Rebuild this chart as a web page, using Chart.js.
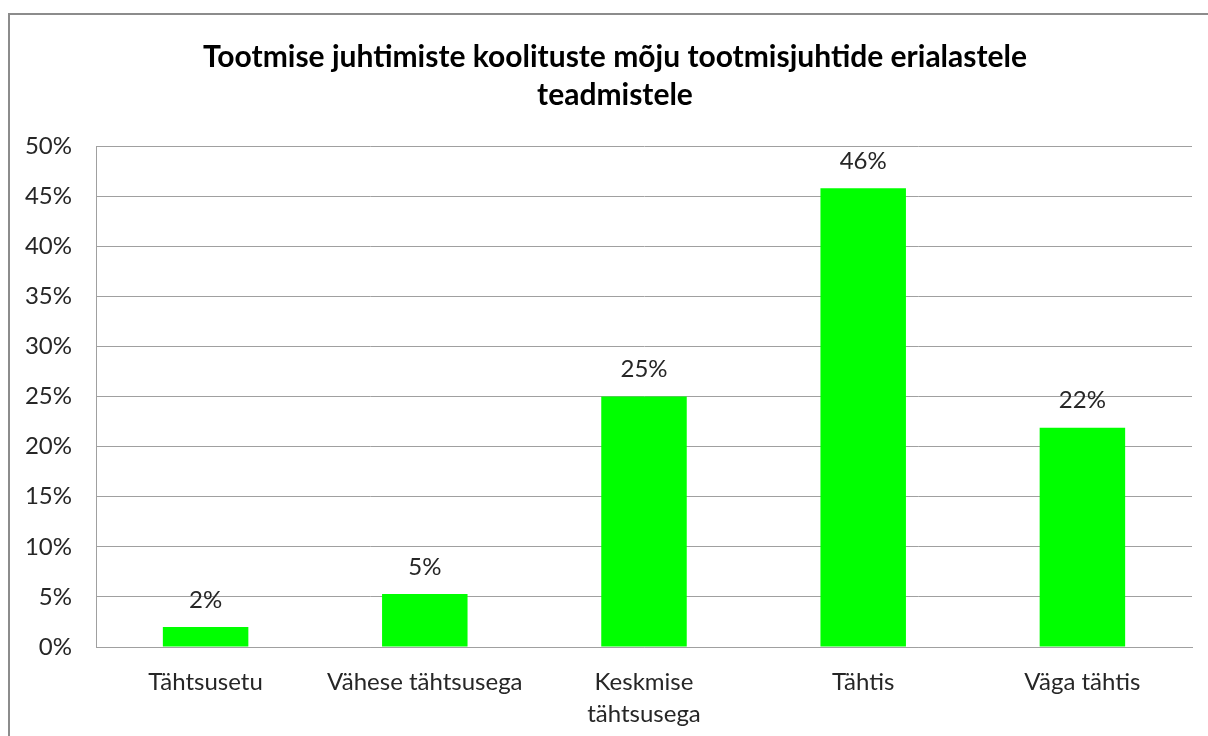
<!DOCTYPE html>
<html lang="et">

<head>
    <meta charset="UTF-8">
    <title>Tootmise juhtimiste koolitused</title>
    <script src="https://cdn.jsdelivr.net/npm/chart.js"></script>
    <style>
        html, body {
            margin: 0;
            padding: 0;
            background: #ffffff;
            overflow: hidden;
        }

        .graafik {
            position: relative;
            width: 1208px;
            height: 736px;
        }
    </style>
</head>

<body>

    <div class="graafik">
        <canvas id="mojuGraafik"></canvas>
    </div>

<script>

    // vastuste jaotus (%)
    var hinnangud = ['Tähtsusetu', 'Vähese tähtsusega', ['Keskmise', 'tähtsusega'], 'Tähtis', 'Väga tähtis'];
    var osakaal = [2.0, 5.3, 25.0, 45.8, 21.9];
    var yMax = 50;
    var ySamm = 5;

    var kiri = 'Lato, "DejaVu Sans", sans-serif';
    var tekstiVarv = '#262626';
    var joonVarv = '#a0a0a0';

    // diagrammi ümbritsev raam + pealkirja nihutamine raami keskele
    var raam = {
        id: 'raam',
        afterLayout: function (chart) {
            chart.titleBlock.left = 38;
        },
        beforeDraw: function (chart) {
            var ctx = chart.ctx;
            ctx.save();
            ctx.strokeStyle = '#8c8c8c';
            ctx.lineWidth = 2;
            ctx.strokeRect(9, 14, 1400, 900);
            ctx.restore();
        }
    };

    // protsendid tulpade kohale
    var sildid = {
        id: 'sildid',
        afterDatasetsDraw: function (chart) {
            var ctx = chart.ctx;
            var meta = chart.getDatasetMeta(0);
            ctx.save();
            ctx.font = '24px ' + kiri;
            ctx.fillStyle = tekstiVarv;
            ctx.textAlign = 'center';
            ctx.textBaseline = 'middle';
            for (var i = 0; i < meta.data.length; i++) {
                var tulp = meta.data[i];
                ctx.fillText(Math.round(osakaal[i]) + '%', tulp.x, tulp.y - 27);
            }
            ctx.restore();
        }
    };

    var ctx = document.getElementById('mojuGraafik').getContext('2d');
    var myChart = new Chart(ctx, {
        type: 'bar',
        data: {
            labels: hinnangud,
            datasets: [{
                data: osakaal,
                backgroundColor: '#00ff00',
                borderWidth: 0,
                barPercentage: 0.39,
                categoryPercentage: 1
            }]
        },
        options: {
            responsive: true,
            maintainAspectRatio: false,
            animation: false,
            layout: {
                padding: { left: 0, right: 16, top: 20, bottom: 0 }
            },
            plugins: {
                legend: { display: false },
                tooltip: { enabled: false },
                title: {
                    display: true,
                    text: ['Tootmise juhtimiste koolituste mõju tootmisjuhtide erialastele', 'teadmistele'],
                    color: '#000000',
                    font: { family: kiri, size: 30, weight: 'bold', lineHeight: 1.27 },
                    padding: { top: 18, bottom: 32 }
                }
            },
            scales: {
                x: {
                    afterFit: function (scale) {
                        scale.height = 89;
                    },
                    grid: { display: false, drawTicks: false },
                    border: { display: true, color: joonVarv, width: 1 },
                    ticks: {
                        color: tekstiVarv,
                        font: { family: kiri, size: 24, lineHeight: 1.3 },
                        padding: 20,
                        maxRotation: 0,
                        autoSkip: false
                    }
                },
                y: {
                    min: 0,
                    max: yMax,
                    afterFit: function (scale) {
                        scale.width = 96;
                    },
                    grid: { color: joonVarv, drawTicks: false },
                    border: { display: true, color: joonVarv, width: 1 },
                    ticks: {
                        stepSize: ySamm,
                        color: tekstiVarv,
                        font: { family: kiri, size: 24 },
                        padding: 24,
                        callback: function (v) {
                            return v + '%';
                        }
                    }
                }
            }
        },
        plugins: [raam, sildid]
    });

</script>

</body>

</html>
